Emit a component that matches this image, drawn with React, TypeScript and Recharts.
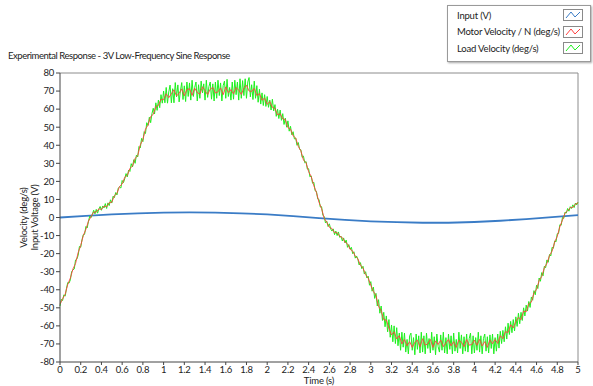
import { LineChart, Line, XAxis, YAxis, ReferenceLine, Legend } from 'recharts'

// sampling intervals of the logged data (s)
const motorStep = 0.025
const loadStep = 0.0125

const motorVelocity = [
  -48, -45, -42.5, -37, -33.5, -28.5, -25.5, -19.5, -15.5, -10, -6.5, -2, 0.5, 3, 3, 4.8, 4.5, 6.3, 6, 8.2, 8.5,
  12, 13.5, 17.2, 18.5, 22.3, 23.4, 27.2, 28.5, 32.8, 34.2, 40.2, 43.2, 48.9, 51.2, 55.9, 57.1, 61.4, 62.1, 65.4, 65.2,
  68.5, 66.3, 68.5, 70.7, 67.3, 68.7, 71.2, 67.4, 70.8, 71.3, 67.6, 71.6, 69.2, 68.3, 72.4, 70.2, 68, 71.1, 72, 68.9,
  69.6, 71.7, 68, 72.3, 69.1, 70.8, 68.4, 72, 70.5, 68.1, 71.6, 73.2, 70, 69.8, 71.5, 67.5, 68.6, 64.9, 66.1, 62.6,
  64.2, 61, 60.4, 56.8, 57.5, 54.6, 54.2, 49.8, 48.9, 45.2, 44, 39.4, 36.9, 31.8, 30.3, 25.4, 22.6, 17.6, 13.9, 8.4,
  4.9, -0.4, -2.6, -5.4, -6.1, -8.4, -8.4, -10.4, -11.1, -13.6, -14.6, -17.6, -18.6, -21.4, -22.9, -26.4, -28.1, -31.6, -33.6, -37.6,
  -40.9, -43.2, -49.2, -51.6, -56.6, -56.8, -61.3, -65, -63.3, -67.2, -65.4, -70, -67.5, -71.1, -68.7, -71.9, -69.1, -67.9, -71.5, -67.1,
  -70.7, -69.9, -67.5, -71.9, -68.3, -70.3, -67.9, -71.5, -69.5, -67.5, -71.1, -68.7, -71.9, -67.9, -69.1, -71.5, -67.5, -70.7, -70.3, -67.9,
  -70.7, -67.5, -71.1, -68.7, -71.9, -67.9, -69.9, -67.5, -69.7, -65.4, -67.1, -63.2, -63.7, -59.4, -61.1, -57.6, -55.3, -56.6, -51.8, -52.2,
  -47.7, -46.8, -41.7, -39.8, -34.9, -32.6, -27.9, -25.4, -21.1, -18.6, -13.6, -10.4, -5.1, -1.4, 2.4, 3.8, 5.4, 5.6, 7.4, 8.2,
]

// load encoder is logged twice as fast and is much noisier
const loadVelocity = [
  -49, -45.3, -46, -42.8, -43.5, -39.3, -36, -36.3, -34.5, -30, -29, -28.5, -23.5, -23, -21, -16, -16.5, -12.3, -9.5, -9.3,
  -5, -5.8, -2, 0.8, 0, 1.8, 4, 2, 4.5, 2.4, 4.7, 6.1, 4, 6.4, 5.3, 7.7, 5, 8.1, 6.6, 9.8,
  8, 11.8, 11, 13.8, 12.5, 16.3, 17, 16.3, 20.5, 19.3, 21.5, 24.3, 22.5, 26.3, 25.5, 29.8, 28, 32, 30, 34.5,
  33.5, 39.3, 38.5, 43.8, 42, 47.5, 46.5, 52.5, 51, 55.5, 52.5, 57.5, 60.5, 57.3, 63.5, 59.3, 65, 60.8, 68, 63.3,
  70, 63.5, 72, 63.3, 69.5, 73.3, 63.5, 71.3, 63.5, 74.7, 66.8, 73.4, 64, 70.1, 74.7, 65.3, 72.9, 64.2, 75, 67,
  74.5, 65, 76, 67, 72, 75, 64.5, 73.5, 66, 75.5, 69, 74, 65, 76, 66.5, 72.5, 75, 65.5, 74, 64.5,
  75, 66, 76, 67.5, 74.5, 64.5, 73, 75.5, 66, 76.5, 67, 72, 65, 75, 65.5, 76, 68, 75, 65, 76.8,
  66, 75.8, 67.5, 76.8, 66, 75, 77.5, 66.8, 73.5, 65.3, 75.5, 66, 73, 63.8, 71, 62.8, 69, 62, 68, 61.5,
  67, 61, 65, 59.5, 65.5, 59, 62.5, 56, 60, 54.8, 59.5, 53.8, 57.5, 51.5, 55, 50, 53.5, 47.8, 50.5, 45.8,
  47.5, 43.5, 44, 40, 41.5, 37.8, 37.5, 33.3, 34, 30.3, 31, 26.8, 27, 22.5, 23, 19, 19.5, 14.8, 14.5, 10.3,
  10, 5.8, 6, 1.3, 0.5, -3, -2, -5, -3.5, -6.3, -7.5, -6.3, -9.5, -7.5, -10, -8, -11, -10.3, -13, -11.3,
  -14, -12.5, -16.5, -15, -17.5, -16.5, -20, -19, -22.5, -21.3, -23, -26.3, -25, -28.3, -27, -31.3, -30, -33.5, -32.5, -37.5,
  -35.5, -40.8, -38.5, -44.8, -42, -49, -45.5, -53, -49, -57, -52.5, -60.5, -54.5, -63.3, -56.5, -66.3, -59.5, -68.8, -60, -69.8,
  -61, -71, -64, -73.5, -63.5, -71.8, -64, -74.5, -67.5, -75.5, -65.5, -64, -73.5, -66.5, -76, -64.5, -73, -65.5, -75, -63.5,
  -74.5, -65.5, -75.5, -64, -72.5, -67, -75, -63.5, -73.5, -66, -76, -64.5, -71.5, -74.5, -65, -73.5, -63.5, -75, -66.5, -75.5,
  -64.5, -73, -65.5, -75.5, -64, -74, -67.5, -75, -63.5, -72.5, -65, -75.5, -66, -74, -64.5, -74.5, -67, -64, -75.5, -65.5,
  -75, -66.5, -73.5, -63.5, -74.5, -65.5, -75.5, -67, -64.5, -74, -66, -75, -65, -72.5, -64.5, -75.5, -66.5, -74, -64.5, -72.3,
  -63, -69.8, -62.5, -68.8, -60.5, -67.3, -58.5, -64.8, -57.5, -63.8, -56.5, -62.8, -55, -60.3, -53, -58.8, -52.5, -57, -50, -54.5,
  -48.5, -51.8, -46.5, -49.8, -44, -45.8, -40.5, -42.8, -37.5, -39.3, -33.5, -35.3, -30.5, -32.3, -27, -27.8, -23.5, -24.8, -20.5, -21.3,
  -16.5, -17, -13, -13.5, -9, -8.8, -4, -4.3, 0, -0.5, 3, 2.5, 5, 3.5, 6, 5, 7, 5.5, 8, 7,
  8.5,
]

const inputTime = [0, 0.25, 0.5, 0.75, 1, 1.25, 1.5, 1.75, 2, 2.25, 2.5, 2.75, 3, 3.25, 3.5, 3.75, 4, 4.25, 4.5, 4.75, 5]
const inputVoltage = [0, 0.9, 1.7, 2.3, 2.7, 2.8, 2.7, 2.3, 1.7, 0.8, -0.3, -1.3, -2.1, -2.6, -2.9, -2.9, -2.5, -1.8, -0.9, 0.2, 1.3]

const timeTicks = [0, 0.2, 0.4, 0.6, 0.8, 1, 1.2, 1.4, 1.6, 1.8, 2, 2.2, 2.4, 2.6, 2.8, 3, 3.2, 3.4, 3.6, 3.8, 4, 4.2, 4.4, 4.6, 4.8, 5]
const velocityTicks = [-80, -70, -60, -50, -40, -30, -20, -10, 0, 10, 20, 30, 40, 50, 60, 70, 80]

const seriesNames = ['Input (V)', 'Motor Velocity / N (deg/s)', 'Load Velocity (deg/s)']
const seriesColors = ['#3a7cc6', '#ff4040', '#1ef01e']

const motorData = motorVelocity.map((v, i) => ({ t: Math.round(i * motorStep * 10000) / 10000, motor: v }))
const loadData = loadVelocity.map((v, i) => ({ t: Math.round(i * loadStep * 10000) / 10000, load: v }))
const inputData = inputTime.map((t, i) => ({ t, input: inputVoltage[i] }))

const font = 'Lato, "Noto Sans", sans-serif'
const textStyle = { fontSize: 9.5, fontFamily: font, fill: '#222', letterSpacing: -0.2 }

function LegendBox() {
  return (
    <div
      style={{
        width: 144,
        height: 57,
        border: '1px solid #9a9a9a',
        boxShadow: '1px 1px 2px rgba(0,0,0,0.35)',
        background: '#fff',
        boxSizing: 'border-box',
        fontFamily: font,
        fontSize: 9.5,
        letterSpacing: -0.2,
        color: '#222',
        paddingTop: 1,
      }}
    >
      {seriesNames.map((name, i) => (
        <div key={name} style={{ display: 'flex', alignItems: 'center', height: 16.5, paddingLeft: 9, whiteSpace: 'nowrap' }}>
          <span style={{ flex: 1 }}>{name}</span>
          <svg width={20} height={12} style={{ marginRight: 7 }}>
            <rect x={0.5} y={0.5} width={19} height={11} fill="#fff" stroke="#8a8a8a" />
            <polyline points="3,9 8,3 12,8 17,3" fill="none" stroke={seriesColors[i]} strokeWidth={1} />
          </svg>
        </div>
      ))}
    </div>
  )
}

function YLabel({ viewBox }: any) {
  const cy = viewBox.y + viewBox.height / 2
  const cx = 28.5
  return (
    <g transform={`rotate(-90, ${cx}, ${cy})`} fontFamily={font} fontSize={9.5} fill="#222" letterSpacing={-0.2}>
      <text x={cx} y={cy - 5.5} textAnchor="middle" dominantBaseline="central">Velocity (deg/s)</text>
      <text x={cx} y={cy + 5.5} textAnchor="middle" dominantBaseline="central">Input Voltage (V)</text>
    </g>
  )
}

export default function App() {
  return (
    <div style={{ position: 'absolute', left: 0, top: 0, width: 593, height: 386, background: '#fff' }}>
      <div
        style={{
          position: 'absolute',
          left: 8,
          top: 50,
          fontFamily: font,
          fontSize: 9.5,
          letterSpacing: -0.45,
          color: '#222',
          whiteSpace: 'nowrap',
        }}
      >
        Experimental Response - 3V Low-Frequency Sine Response
      </div>
      <LineChart width={593} height={386} margin={{ top: 73, right: 15, bottom: 0, left: 0 }}>
        <XAxis
          type="number"
          dataKey="t"
          domain={[0, 5]}
          ticks={timeTicks}
          interval={0}
          height={24}
          stroke="#444"
          tickSize={3}
          tickMargin={1}
          tick={textStyle}
          label={{ value: 'Time (s)', position: 'insideBottom', offset: 2, ...textStyle }}
        />
        <YAxis
          type="number"
          domain={[-80, 80]}
          ticks={velocityTicks}
          interval={0}
          width={60}
          stroke="#444"
          tickSize={4}
          tickMargin={2}
          tick={textStyle}
          label={<YLabel />}
        />
        <ReferenceLine y={80} stroke="#8c8c8c" />
        <ReferenceLine x={5} stroke="#8c8c8c" />
        <Legend
          layout="horizontal"
          verticalAlign="middle"
          align="center"
          wrapperStyle={{ position: 'absolute', left: 447, top: 5, width: 144 }}
          content={() => <LegendBox />}
        />
        <Line
          data={inputData}
          dataKey="input"
          name={seriesNames[0]}
          stroke={seriesColors[0]}
          strokeWidth={1.8}
          dot={false}
          type="linear"
          isAnimationActive={false}
        />
        <Line
          data={loadData}
          dataKey="load"
          name={seriesNames[2]}
          stroke={seriesColors[2]}
          strokeWidth={1}
          dot={false}
          type="linear"
          isAnimationActive={false}
        />
        <Line
          data={motorData}
          dataKey="motor"
          name={seriesNames[1]}
          stroke={seriesColors[1]}
          strokeWidth={0.9}
          dot={false}
          type="linear"
          isAnimationActive={false}
        />
      </LineChart>
    </div>
  )
}
